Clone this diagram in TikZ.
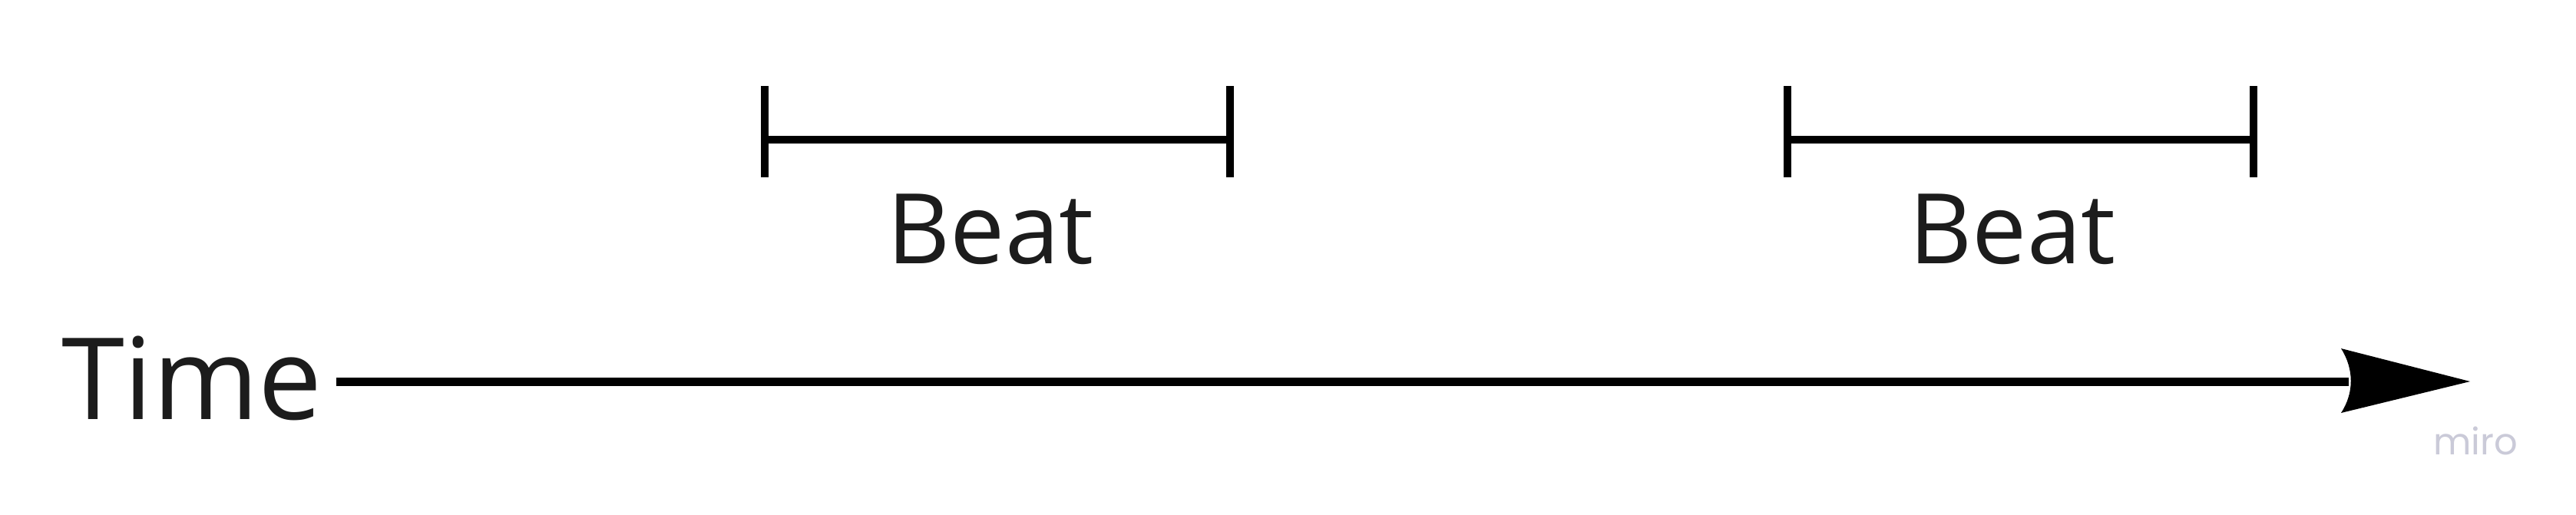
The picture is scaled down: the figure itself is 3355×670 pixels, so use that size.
\documentclass[tikz,border=0pt]{standalone}
\usepackage{fontspec}
\setmainfont{Open Sans}
\newfontfamily\mirofont{Poppins}
\definecolor{txt}{HTML}{1C1C1C}
\definecolor{mirogray}{HTML}{CACAD8}
\begin{document}
\begin{tikzpicture}[x=1pt,y=-1pt,
  lbl/.style={inner sep=0pt,outer sep=0pt,text=txt},
  tick/.style={line width=10pt},
  span/.style={line width=10pt},
  axis/.style={line width=11pt}]
\useasboundingbox (0,0) rectangle (3355,670);
\fill[white] (0,0) rectangle (3355,670);
% Time label and axis
\node[lbl,anchor=base west,font=\fontsize{148}{160}\selectfont] (time) at (80,546) {Time};
\coordinate (astart) at (438,497);
\coordinate (aend) at (3217,497);
\draw[axis] (astart) -- ([xshift=-158pt]aend);
\fill (aend) -- ++(-168,-43) .. controls ++(17,27) and ++(17,-26) .. ++(0,84) -- cycle;
% Beat 1
\coordinate (b1l) at (996,182);
\coordinate (b1r) at (1602,182);
\draw[tick] (996,112) -- (996,231);
\draw[tick] (1602,112) -- (1602,231);
\draw[span] (b1l) -- (b1r);
\node[lbl,anchor=base,font=\fontsize{127}{140}\selectfont] (beat1) at (1290,343) {Beat};
% Beat 2
\coordinate (b2l) at (2328,182);
\coordinate (b2r) at (2935,182);
\draw[tick] (2328,112) -- (2328,231);
\draw[tick] (2935,112) -- (2935,231);
\draw[span] (b2l) -- (b2r);
\node[lbl,anchor=base,font=\fontsize{127}{140}\selectfont] (beat2) at (2621,343) {Beat};
% watermark
\node[inner sep=0pt,anchor=base,text=mirogray,font=\mirofont\fontsize{48}{52}\selectfont] (miro) at (3224,592) {miro};
\end{tikzpicture}
\end{document}
